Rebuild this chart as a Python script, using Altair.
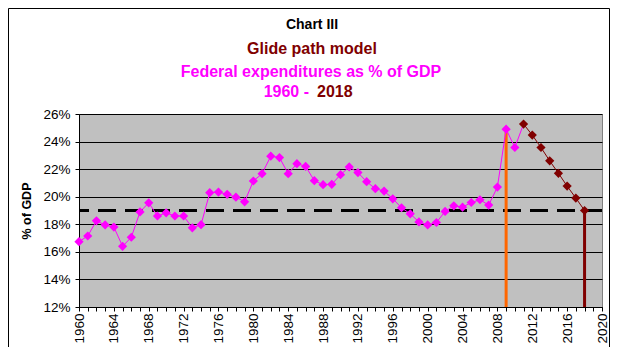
import altair as alt
import pandas as pd

# ---- data ----
years_actual = list(range(1960, 2011))
pct_actual = [16.74, 17.15, 18.25, 17.95, 17.80, 16.40, 17.06, 18.90, 19.56, 18.60,
              18.83, 18.60, 18.60, 17.74, 17.97, 20.29, 20.34, 20.17, 19.97, 19.63,
              21.14, 21.67, 22.94, 22.84, 21.67, 22.40, 22.20, 21.16, 20.87, 20.90,
              21.60, 22.16, 21.75, 21.09, 20.58, 20.41, 19.85, 19.20, 18.76, 18.17,
              17.95, 18.13, 18.93, 19.34, 19.24, 19.58, 19.78, 19.39, 20.70, 24.90,
              23.57]
years_glide = list(range(2011, 2019))
pct_glide = [25.27, 24.47, 23.57, 22.60, 21.70, 20.77, 19.90, 19.00]
target_pct = [19]
marker_years = [2009, 2018]
marker_pct = [24.90, 19.00]
x_ticks = list(range(1960, 2021))
y_ticks = [12, 14, 16, 18, 20, 22, 24, 26]

title_1 = "Chart III"
title_2 = "Glide path model"
title_3 = "Federal expenditures as % of GDP"
title_4a = "1960 -"
title_4b = "2018"

FONT = "Liberation Sans"
PINK = "#FF00FF"
DARKRED = "#800000"
ORANGE = "#FF6600"

actual = pd.DataFrame({"year": years_actual, "pct": pct_actual})
glide = pd.DataFrame({"year": years_glide, "pct": pct_glide})
actual_line = pd.concat([actual, glide.iloc[:1]], ignore_index=True)
target = pd.DataFrame({"pct": target_pct})
orange_df = pd.DataFrame({"year": marker_years[:1], "pct": marker_pct[:1]})
darkred_df = pd.DataFrame({"year": marker_years[1:], "pct": marker_pct[1:]})

x_enc = alt.X(
    "year:Q",
    scale=alt.Scale(domain=[1960, 2020], nice=False, zero=False),
    axis=alt.Axis(
        values=x_ticks,
        labelExpr="datum.value % 4 == 0 ? '' + datum.value : ''",
        labelAngle=270,
        labelOverlap=False,
        labelFlush=False,
        labelFontSize=13.5,
        labelPadding=2,
        tickSize=4,
        grid=False,
        title=None,
    ),
)
y_enc = alt.Y(
    "pct:Q",
    scale=alt.Scale(domain=[12, 26], nice=False, zero=False),
    axis=alt.Axis(
        values=y_ticks,
        labelExpr="datum.value + '%'",
        labelOverlap=False,
        labelFlush=False,
        labelFontSize=13.5,
        labelPadding=5,
        tickSize=4,
        grid=True,
        gridColor="black",
        gridOpacity=1,
        gridWidth=1,
        title="% of GDP",
        titleFontSize=12.5,
        titleFontWeight="bold",
        titlePadding=9,
    ),
)

dash = alt.Chart(target).mark_rule(
    color="black", strokeWidth=3, strokeDash=[18, 9]
).encode(y=y_enc)

orange_rule = alt.Chart(orange_df).mark_rule(color=ORANGE, strokeWidth=3).encode(
    x=x_enc, y=y_enc, y2=alt.datum(12)
)
darkred_rule = alt.Chart(darkred_df).mark_rule(color=DARKRED, strokeWidth=3).encode(
    x=x_enc, y=y_enc, y2=alt.datum(12)
)

pink_line = alt.Chart(actual_line).mark_line(color=PINK, strokeWidth=1).encode(x=x_enc, y=y_enc)
pink_pts = alt.Chart(actual).mark_point(
    shape="diamond", filled=True, size=85, color=PINK, opacity=1
).encode(x=x_enc, y=y_enc)
dr_line = alt.Chart(glide).mark_line(color=DARKRED, strokeWidth=1).encode(x=x_enc, y=y_enc)
dr_pts = alt.Chart(glide).mark_point(
    shape="diamond", filled=True, size=85, color=DARKRED, opacity=1
).encode(x=x_enc, y=y_enc)

one = pd.DataFrame({"k": [0]})


def label(txt, xv, yv, size, color, align="center"):
    return alt.Chart(one).mark_text(
        text=txt, font=FONT, fontSize=size, fontWeight="bold", color=color,
        align=align, baseline="alphabetic"
    ).encode(x=alt.value(xv), y=alt.value(yv))


t1 = label(title_1, 233, -85, 14, "black")
t2 = label(title_2, 233, -60, 16, DARKRED)
t3 = label(title_3, 232, -37, 16, PINK)
t4a = label(title_4a, 230, -17, 16, PINK, align="right")
t4b = label(title_4b, 238, -17, 16, DARKRED, align="left")

frame = alt.Chart(one).mark_rect(
    fillOpacity=0, stroke="black", strokeWidth=1
).encode(x=alt.value(-70.5), x2=alt.value(530.5), y=alt.value(-105.5), y2=alt.value(237.5))

chart = alt.layer(
    frame, dash, orange_rule, darkred_rule, pink_line, dr_line, pink_pts, dr_pts,
    t1, t2, t3, t4a, t4b
).properties(
    width=523,
    height=193,
    autosize=alt.AutoSizeParams(type="none"),
    padding={"left": 71, "top": 106, "right": 8, "bottom": 40},
    background="white",
).configure_view(
    fill="#C0C0C0", stroke="#808080", strokeWidth=1
).configure_axis(
    labelFont=FONT, titleFont=FONT, labelColor="black", titleColor="black",
    domainColor="black", tickColor="black", domainWidth=1, tickWidth=1
)

chart.save("out.html", embed_options={"renderer": "svg", "actions": False})
